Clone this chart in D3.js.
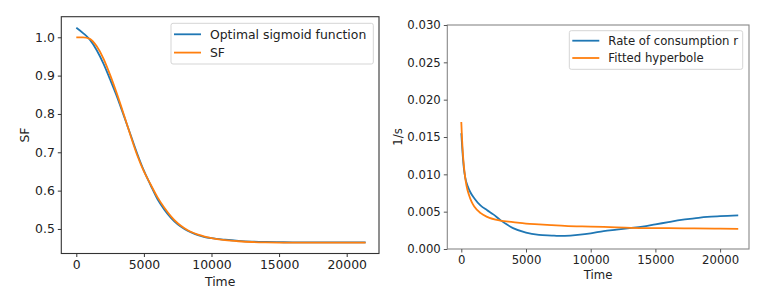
<!DOCTYPE html>
<html><head><meta charset="utf-8">
<script src="https://cdn.jsdelivr.net/npm/d3@7"></script>
<style>
body{margin:0;background:#fff;}
svg text{font-family:"DejaVu Sans",sans-serif;fill:#222;}
</style></head>
<body><svg id="c" width="767" height="291"></svg>
<script>
// ---- Left panel data ----
const sfTime = [0,500,1000,1500,2000,2500,3000,3500,4000,4500,5000,5500,6000,6500,7000,7500,8000,8500,9000,9500,10000,11000,12000,13000,14000,15000,16000,18000,20000,21400];
const sigmoidVals = [1.025,1.011,0.994,0.967,0.932,0.890,0.846,0.797,0.747,0.697,0.652,0.614,0.578,0.551,0.529,0.512,0.500,0.491,0.484,0.479,0.476,0.472,0.469,0.467,0.466,0.4655,0.465,0.465,0.465,0.465];
const sfVals = [1.000,1.000,0.996,0.977,0.945,0.902,0.853,0.800,0.745,0.693,0.650,0.616,0.583,0.556,0.533,0.515,0.502,0.492,0.485,0.480,0.476,0.471,0.468,0.466,0.465,0.4645,0.4643,0.4643,0.4643,0.4643];
const leftXTicks = [0,5000,10000,15000,20000];
const leftYTicks = [0.5,0.6,0.7,0.8,0.9,1.0];

// ---- Right panel data ----
const rTime = [0,100,200,300,500,700,1000,1500,2000,2500,3000,3500,4000,5000,6000,7000,7500,8000,9000,10000,11000,12000,13000,14000,15000,16000,17000,18000,19000,20000,21400];
const rateVals = [0.0155,0.0128,0.0108,0.0096,0.0084,0.0076,0.0068,0.0058,0.0052,0.0046,0.0039,0.0033,0.0028,0.0022,0.0019,0.0018,0.00175,0.00177,0.0019,0.0021,0.0024,0.0026,0.0028,0.0030,0.0033,0.0036,0.0039,0.0041,0.0043,0.0044,0.0045];
const hTime = [0,50,100,200,300,400,600,800,1000,1500,2000,3000,4000,5000,6000,7000,8000,10000,12000,14000,16000,18000,20000,21400];
const hypVals = [0.0170,0.0150,0.0134,0.0111,0.0096,0.0085,0.0072,0.0063,0.0057,0.0048,0.0043,0.0038,0.0036,0.0034,0.0033,0.0032,0.0031,0.0030,0.0029,0.0028,0.0028,0.00275,0.00272,0.0027];
const rightXTicks = [0,5000,10000,15000,20000];
const rightYTicks = [0,0.005,0.010,0.015,0.020,0.025,0.030];

const svg = d3.select("#c");
const BLUE="#1f77b4", ORANGE="#ff7f0e";

function panel(o){
  const g = svg.append("g");
  const x = d3.scaleLinear().domain(o.xd).range([o.L,o.R]);
  const y = d3.scaleLinear().domain(o.yd).range([o.B,o.T]);
  const line = d3.line().x(d=>x(d[0])).y(d=>y(d[1])).curve(d3.curveMonotoneX);
  const clip = "clip"+o.id;
  g.append("clipPath").attr("id",clip).append("rect").attr("x",o.L).attr("y",o.T).attr("width",o.R-o.L).attr("height",o.B-o.T);
  o.series.forEach(s=>{
    g.append("path").attr("clip-path",`url(#${clip})`).datum(d3.zip(s.t,s.v)).attr("d",line)
     .attr("fill","none").attr("stroke",s.c).attr("stroke-width",1.8);
  });
  // frame
  g.append("rect").attr("x",o.L).attr("y",o.T).attr("width",o.R-o.L).attr("height",o.B-o.T)
   .attr("fill","none").attr("stroke",o.spine).attr("stroke-width",1.1);
  const xa = g.append("g").attr("transform",`translate(0,${o.B})`)
    .call(d3.axisBottom(x).tickValues(o.xt).tickSize(3.5).tickPadding(3).tickFormat(d3.format("d")));
  const ya = g.append("g").attr("transform",`translate(${o.L},0)`)
    .call(d3.axisLeft(y).tickValues(o.yt).tickSize(3.5).tickPadding(3).tickFormat(d3.format(o.yf)));
  [xa,ya].forEach(a=>{a.select(".domain").remove();a.selectAll("line").attr("stroke",o.tick);
    a.selectAll("text").style("font-size",o.fs+"px").attr("fill","#222");});
  g.append("text").attr("x",(o.L+o.R)/2).attr("y",o.xlY).attr("text-anchor","middle").style("font-size",o.fs+"px").text("Time");
  g.append("text").attr("transform",`translate(${o.ylX},${(o.T+o.B)/2}) rotate(-90)`).attr("text-anchor","middle").style("font-size",o.fs+"px").text(o.ylab);
  // legend
  const lg = g.append("g");
  lg.append("rect").attr("x",o.lg.x).attr("y",o.lg.y).attr("width",o.lg.w).attr("height",o.lg.h).attr("rx",2)
    .attr("fill","#fff").attr("fill-opacity",0.8).attr("stroke","#d5d5d5").attr("stroke-width",1);
  o.series.forEach((s,i)=>{
    const yy = o.lg.y + o.lg.r0 + i*o.lg.dy;
    lg.append("line").attr("x1",o.lg.x+3).attr("x2",o.lg.x+30).attr("y1",yy).attr("y2",yy).attr("stroke",s.c).attr("stroke-width",1.8);
    lg.append("text").attr("x",o.lg.x+39).attr("y",yy).attr("dy","0.35em").style("font-size",o.fs+"px").text(s.name);
  });
}

panel({id:"L", L:61.3,R:379,T:16.7,B:253.5, xd:[-1110,22390], yd:[0.436,1.0537],
  xt:leftXTicks, yt:leftYTicks, yf:".1f", fs:12.4, spine:"#333", tick:"#333",
  xlY:285.5, ylX:29, ylab:"SF",
  lg:{x:171,y:23.3,w:202.3,h:40.7,r0:11,dy:18.3},
  series:[{t:sfTime,v:sigmoidVals,c:BLUE,name:"Optimal sigmoid function"},
          {t:sfTime,v:sfVals,c:ORANGE,name:"SF"}]});

panel({id:"R", L:447.3,R:749,T:25,B:249, xd:[-1082,22233], yd:[0,0.03],
  xt:rightXTicks, yt:rightYTicks, yf:".3f", fs:11.7, spine:"#888", tick:"#555",
  xlY:279, ylX:402, ylab:"1/s",
  lg:{x:569.3,y:30.7,w:173.4,h:38.6,r0:10,dy:17.3},
  series:[{t:rTime,v:rateVals,c:BLUE,name:"Rate of consumption r"},
          {t:hTime,v:hypVals,c:ORANGE,name:"Fitted hyperbole"}]});
</script></body></html>
